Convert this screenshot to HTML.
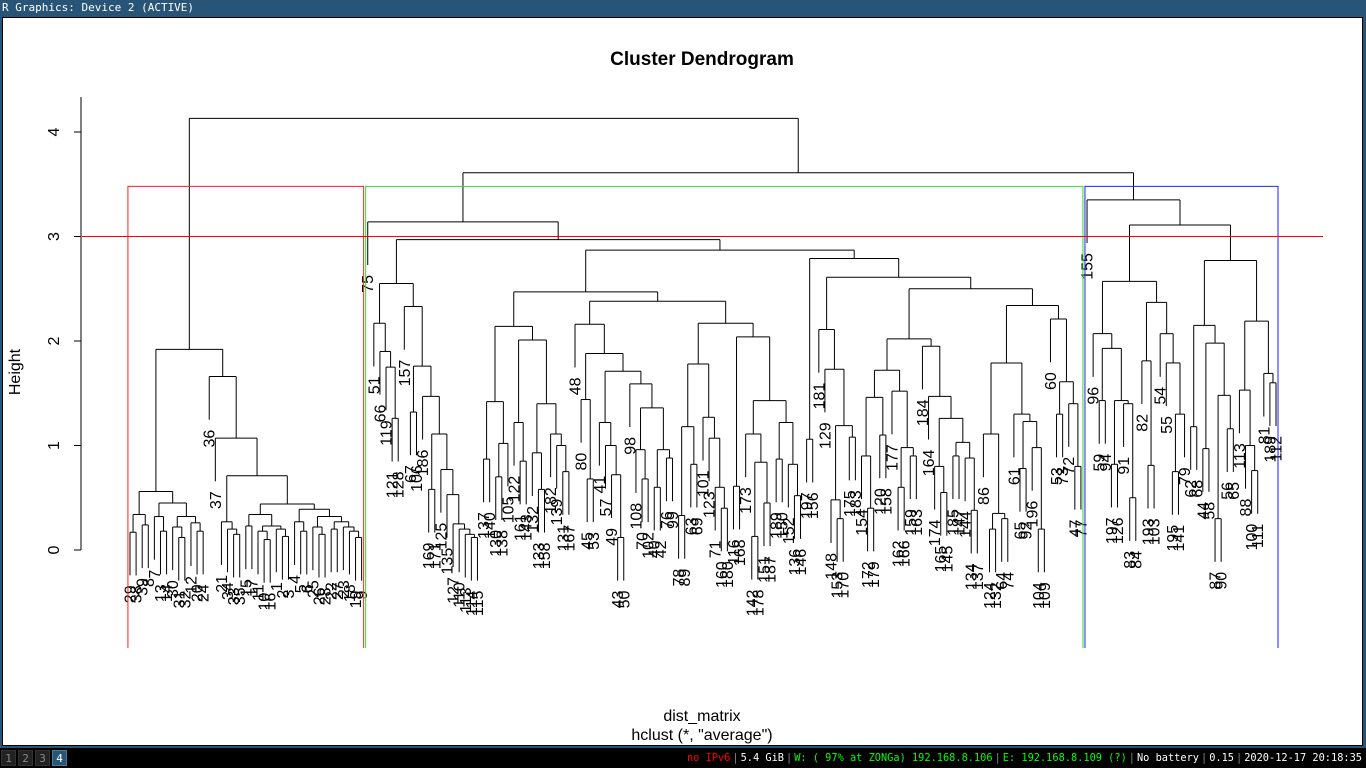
<!DOCTYPE html>
<html><head><meta charset="utf-8"><title>Cluster Dendrogram</title>
<style>
html,body{margin:0;padding:0;width:1366px;height:768px;overflow:hidden;background:#285577;font-family:"Liberation Sans",sans-serif}
#titlebar{position:absolute;left:0;top:0;width:1366px;height:17px;background:#285577;color:#fff;font-family:"DejaVu Sans Mono","Liberation Mono",monospace;font-size:11px;line-height:16px;padding-left:2px;box-sizing:border-box}
#win{position:absolute;left:2px;top:17px;width:1361px;height:729px;background:#fff;border:1px solid #000;box-sizing:border-box}
#bar{position:absolute;left:0;top:748px;width:1366px;height:20px;background:#000;font-family:"DejaVu Sans Mono","Liberation Mono",monospace;font-size:10.3px;line-height:20px;color:#fff}
.ws{position:absolute;top:2px;width:15px;height:16px;line-height:16px;text-align:center;background:#222;color:#888;border:1px solid #333;box-sizing:border-box;font-size:11px}
#status{position:absolute;right:4px;top:0;white-space:pre}
.s{color:#888;padding:0 2px}
svg{position:absolute;left:0;top:0}
</style></head><body>
<div id="titlebar">R Graphics: Device 2 (ACTIVE)</div>
<div id="win"></div>
<div id="bar">
<div class="ws" style="left:1px">1</div>
<div class="ws" style="left:18px">2</div>
<div class="ws" style="left:35px">3</div>
<div class="ws" style="left:52px;background:#285577;color:#fff;border-color:#4c7899">4</div>
<div id="status"><span style="color:#f00">no IPv6</span><span class="s">|</span>5.4 GiB<span class="s">|</span><span style="color:#0f0">W: ( 97% at ZONGa) 192.168.8.106</span><span class="s">|</span><span style="color:#0f0">E: 192.168.8.109 (?)</span><span class="s">|</span>No battery<span class="s">|</span>0.15<span class="s">|</span>2020-12-17 20:18:35</div>
</div>
<svg id="chart" width="1366" height="768">
<text x="702" y="65" text-anchor="middle" font-size="19" font-weight="bold">Cluster Dendrogram</text>
<text x="702" y="721" text-anchor="middle" font-size="16">dist_matrix</text>
<text x="702" y="740" text-anchor="middle" font-size="16">hclust (*, "average")</text>
<text transform="translate(20,372) rotate(-90)" text-anchor="middle" font-size="16">Height</text>
<g id="axis"></g><g id="tree" stroke="#000" stroke-width="1" fill="none"></g><g id="labels" font-size="16"></g><g id="rects" fill="none"></g>
</svg>
<script>
const yTicks = [0, 1, 2, 3, 4];
const cutHeight = 3;
const clusterColors = ["#ff2020", "#30dd30", "#2020ff"];
const red = [1.92,
  [0.56,[0.34,[0.17,29,38],[0.24,39,8]],[0.45,[0.32,7,[0.18,13,14]],[0.32,[0.22,30,[0.12,31,32]],[0.26,12,[0.18,20,24]]]]],
  [1.66,36,[1.07,37,[0.71,[0.27,21,[0.20,34,[0.15,33,35]]],[0.44,[0.34,[0.23,15,17],[0.23,[0.18,11,[0.1,10,16]],[0.20,1,[0.13,2,3]]]],[0.39,[0.27,4,[0.18,5,6]],[0.32,[0.22,25,[0.15,26,28]],[0.27,[0.2,22,27],[0.22,23,[0.18,18,[0.12,19,9]]]]]]]]]]];
const gA = [2.55,
  [2.17,51,[1.90,66,[1.75,119,[1.26,121,128]]]],
  [2.33,157,[1.76,[1.32,67,106],[1.47,186,[1.11,[0.58,169,171],[0.77,125,[0.53,135,[0.25,127,[0.2,110,[0.15,113,[0.12,114,115]]]]]]]]]]];
const gX509 = [2.14,[1.42,[0.87,137,140],[1.02,[0.7,130,138],105]],[2.01,[1.22,122,[0.85,161,143]],[1.40,[0.93,132,[0.58,133,158]],[1.11,182,[1.0,139,[0.75,131,167]]]]]];
const gX588 = [2.16,48,[1.88,[1.44,80,[0.68,45,53]],[1.71,[1.22,41,[1.0,57,[0.72,49,[0.12,43,50]]]],[1.59,98,[1.36,[0.96,108,[0.68,70,102]],[0.96,[0.6,40,42],[0.88,76,99]]]]]]];
const gX722 = [2.17,[1.78,[1.18,[0.33,78,89],[0.82,63,69]],[1.27,101,[1.07,123,[0.6,71,[0.4,160,180]]]]],[2.04,[0.61,116,168],[1.43,[1.11,173,[0.84,[0.13,142,178],[0.45,151,187]]],[1.22,[0.87,189,150],[0.82,152,[0.52,136,146]]]]]];
const gX818 = [2.11,181,[1.73,129,[1.19,[0.48,148,[0.3,153,170]],[1.08,175,183]]]];
const gX880 = [1.72,[1.46,[0.9,154,[0.4,172,179]],[1.1,120,158]],[1.52,177,[0.98,[0.6,162,166],[0.9,159,163]]]];
const gX933 = [1.95,184,[1.47,164,[1.26,[0.8,174,[0.55,165,145]],[1.03,[0.9,185,147],[0.88,144,[0.38,134,137]]]]]];
const gX1011 = [1.79,[1.11,86,[0.35,[0.2,124,132],[0.3,64,74]]],[1.30,61,[1.23,[0.78,65,92],[0.98,196,[0.2,104,109]]]]];
const gX1059 = [2.21,60,[1.61,[1.3,53,73],[1.4,72,[0.8,47,77]]]];
const green = [3.14,75,[2.97,gA,[2.87,[2.47,gX509,[2.38,gX588,gX722]],[2.79,[1.06,197,156],[2.61,gX818,[2.50,[2.02,gX880,gX933],[2.34,gX1011,gX1059]]]]]]];
const bX1129 = [2.57,[2.07,96,[1.93,[1.43,59,94],[1.43,[0.82,197,126],[1.4,91,[0.5,83,84]]]]],[2.37,[1.81,82,[0.81,193,103]],[2.07,54,[1.79,55,[1.30,[0.75,195,141],79]]]]];
const bX1227 = [2.77,[2.15,[1.18,62,68],[1.98,[0.97,44,58],[1.48,[0.3,87,90],[1.16,56,65]]]],[2.19,[1.53,113,[1.0,88,[0.76,100,111]]],[1.69,81,[1.6,189,112]]]];
const blue = [3.35,155,[3.11,bX1129,bX1227]];
const tree = [4.13, red, [3.61, green, blue]];

const NS = "http://www.w3.org/2000/svg";
const y0 = 550, pxPerUnit = 104.5, xFirst = 130, xLast = 1276, usrBottom = 648;
function yScale(h){ return y0 - h * pxPerUnit; }
const hang = 0.1 * tree[0];
function countLeaves(n){ return Array.isArray(n) ? countLeaves(n[1]) + countLeaves(n[2]) : 1; }
const N = countLeaves(tree);
const sp = (xLast - xFirst) / (N - 1);
function xScale(i){ return xFirst + i * sp; }
let idx = 0;
const gTree = document.getElementById('tree'), gLab = document.getElementById('labels');
function line(x1,y1,x2,y2){
  const l = document.createElementNS(NS,'line');
  l.setAttribute('x1',x1); l.setAttribute('y1',y1); l.setAttribute('x2',x2); l.setAttribute('y2',y2);
  
  
  gTree.appendChild(l);
}
function layout(n){
  if(!Array.isArray(n)) return {x: xScale(idx++), h: null, leaf: n};
  const a = layout(n[1]), b = layout(n[2]);
  const yh = yScale(n[0]);
  [a,b].forEach(c => {
    if(c.h === null){
      const yEnd = yScale(n[0] - hang);
      line(c.x, yh, c.x, yEnd);
      const t = document.createElementNS(NS,'text');
      t.setAttribute('transform', 'translate(' + (c.x + 5.5) + ',' + (yEnd + 10) + ') rotate(-90)');
      t.setAttribute('text-anchor','end');
      t.textContent = c.leaf;
      
      
      gLab.appendChild(t);
    } else {
      line(c.x, yh, c.x, yScale(c.h));
    }
  });
  line(a.x, yh, b.x, yh);
  return {x: (a.x + b.x) / 2, h: n[0]};
}
layout(tree);

const gAx = document.getElementById('axis');
function axLine(x1,y1,x2,y2,name){
  const l = document.createElementNS(NS,'line');
  l.setAttribute('x1',x1); l.setAttribute('y1',y1); l.setAttribute('x2',x2); l.setAttribute('y2',y2);
  l.setAttribute('stroke','#000');
  
  
  gAx.appendChild(l);
}
axLine(81, yScale(yTicks[0]), 81, 97, 'y-axis-line');
yTicks.forEach(v => {
  axLine(74, yScale(v), 81, yScale(v), 'y-tick');
  const t = document.createElementNS(NS,'text');
  t.setAttribute('transform','translate(59,' + yScale(v) + ') rotate(-90)');
  t.setAttribute('text-anchor','middle');
  t.setAttribute('font-size','16');
  t.textContent = v;
  
  
  gAx.appendChild(t);
});

const gR = document.getElementById('rects');
const clusters = [red, green, blue];
const rectTop = yScale((tree[2][0] + blue[0]) / 2);
let start = 0;
clusters.forEach((c, i) => {
  const n = countLeaves(c);
  const x1 = xScale(start) - 0.34 * sp, x2 = xScale(start + n - 1) + 0.33 * sp;
  const r = document.createElementNS(NS,'path');
  r.setAttribute('d', 'M' + x1 + ',' + usrBottom + 'V' + rectTop + 'H' + x2 + 'V' + usrBottom);
  r.setAttribute('stroke', clusterColors[i]);
  
  
  gR.appendChild(r);
  start += n;
});
const cut = document.createElementNS(NS,'line');
cut.setAttribute('x1', 82); cut.setAttribute('x2', 1323);
cut.setAttribute('y1', yScale(cutHeight)); cut.setAttribute('y2', yScale(cutHeight));
cut.setAttribute('stroke', '#ff0000');


gR.appendChild(cut);
</script>
</body></html>
